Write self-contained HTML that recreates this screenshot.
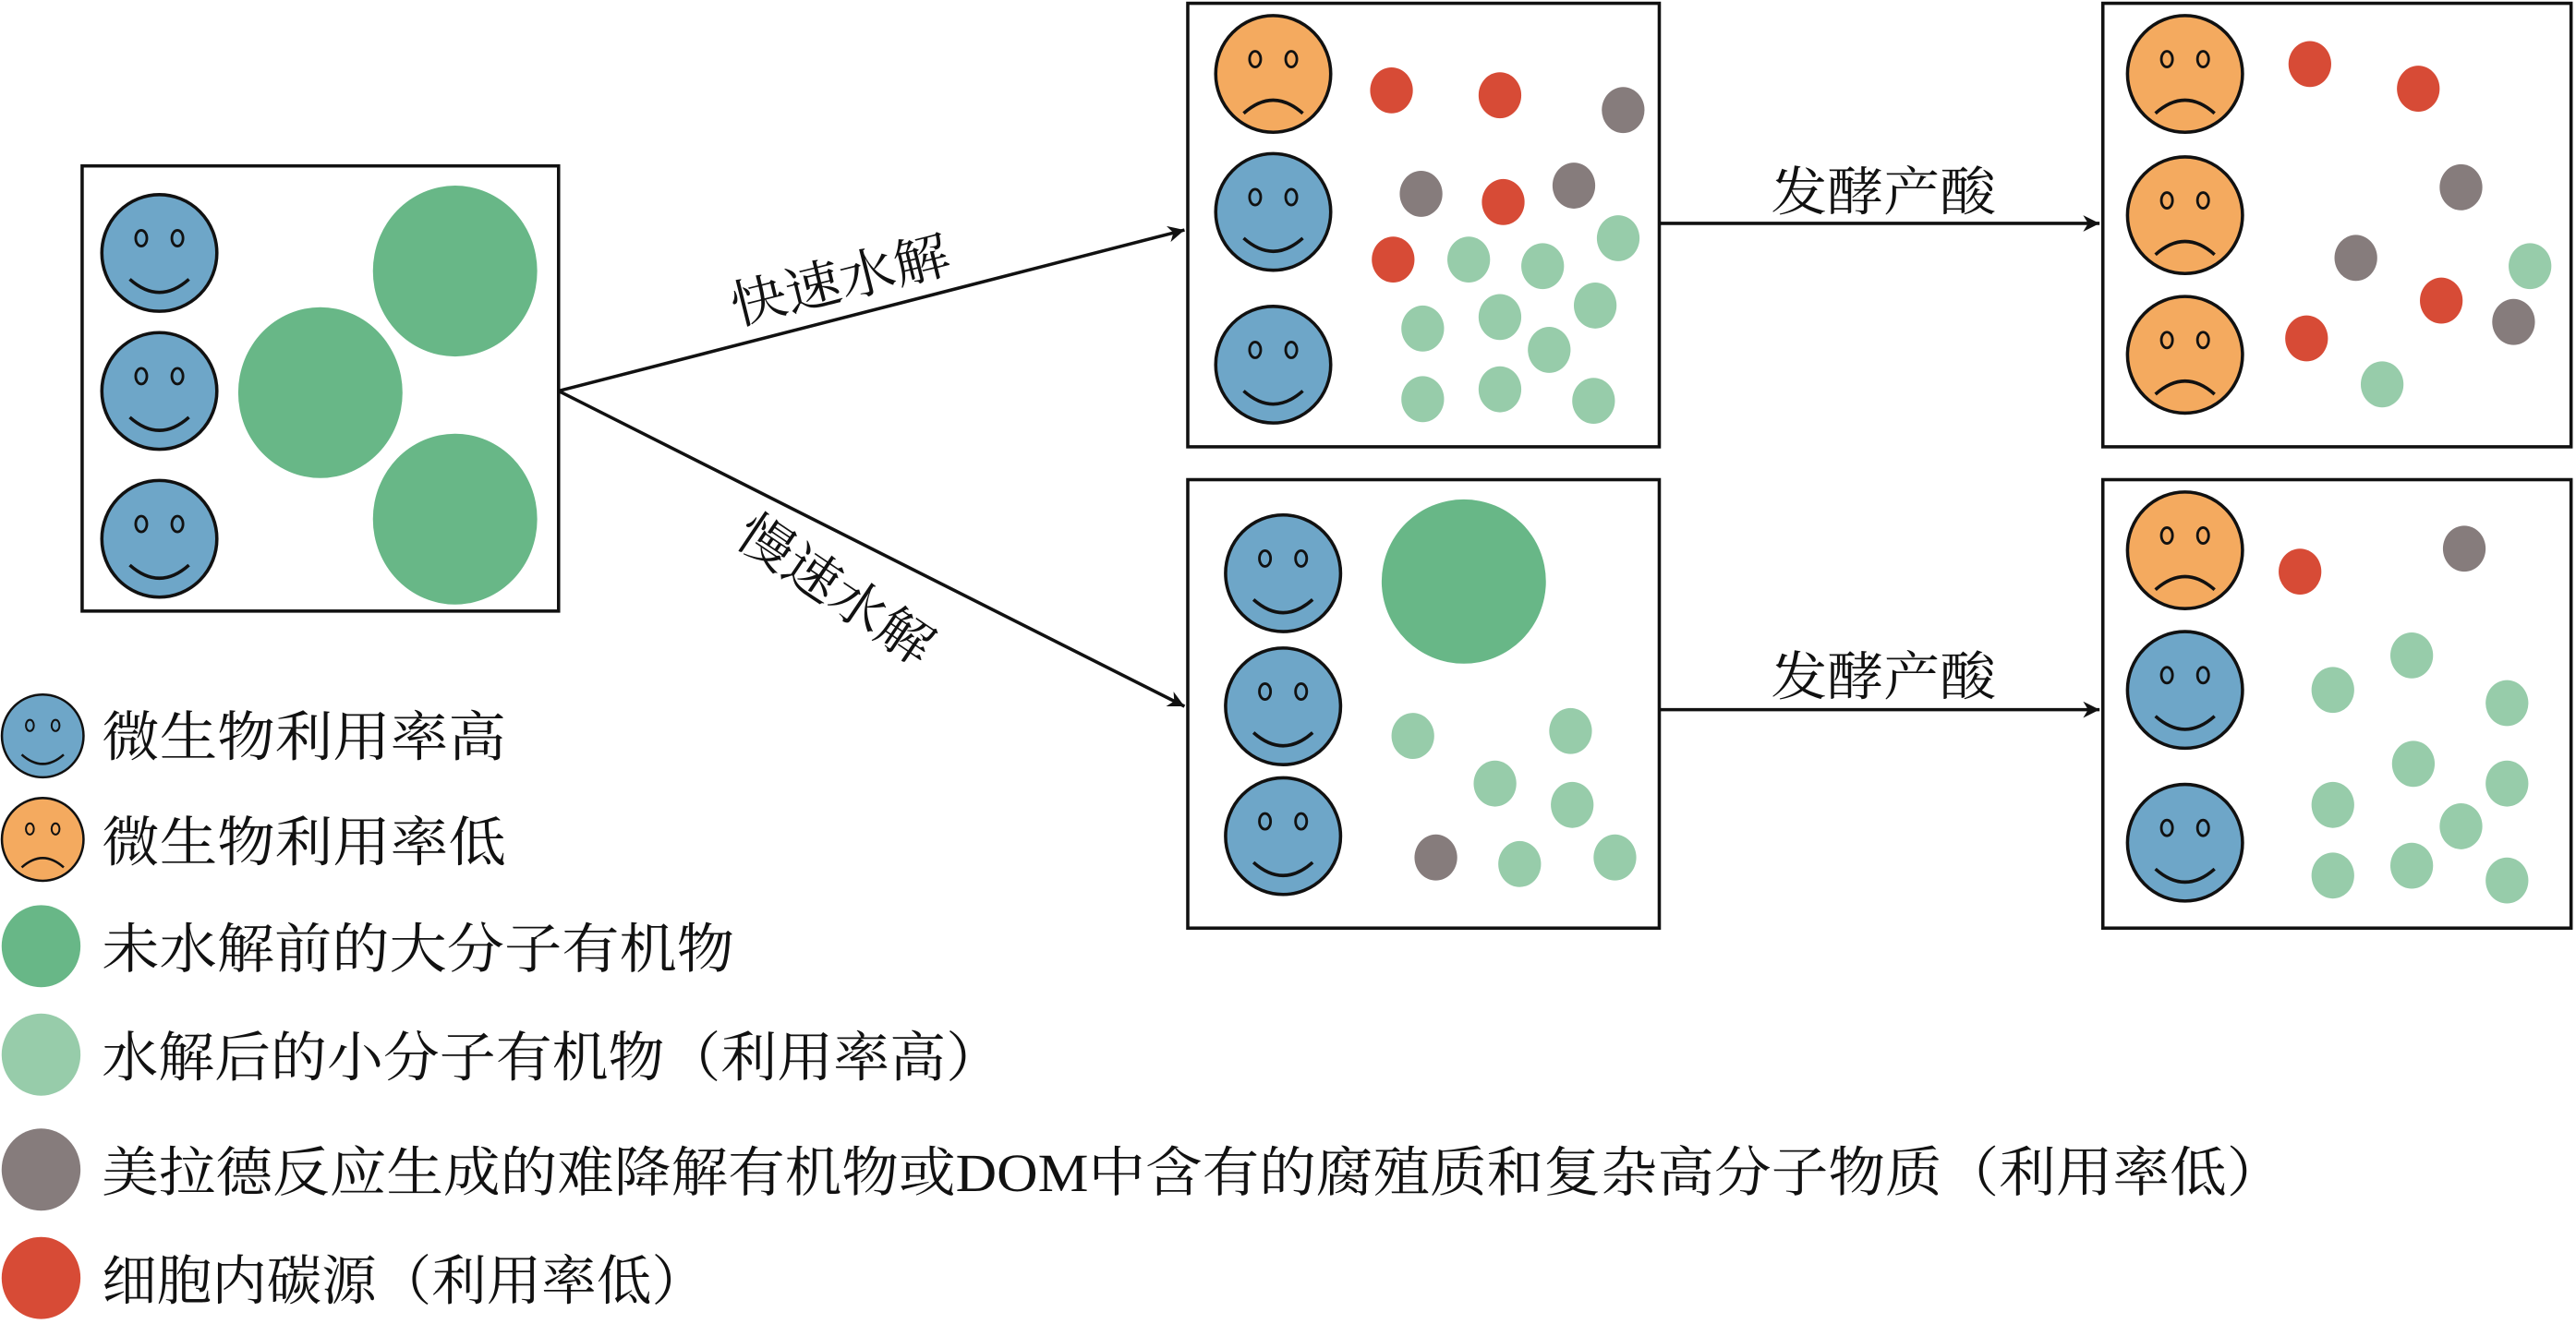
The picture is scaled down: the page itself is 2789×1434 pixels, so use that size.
<!DOCTYPE html>
<html><head><meta charset="utf-8"><style>
html,body{margin:0;padding:0;background:#fff;}
svg{display:block}
text{font-family:"Liberation Serif","Noto Serif CJK SC",serif;fill:#111;}
</style></head><body>
<svg width="2789" height="1434" viewBox="0 0 1568 806" preserveAspectRatio="none" xmlns="http://www.w3.org/2000/svg">
<defs>
<g id="happy">
<ellipse cx="0" cy="0" rx="35" ry="35.5" fill="#6ea6c8" stroke="#111" stroke-width="2"/>
<ellipse cx="-11" cy="-9" rx="3.4" ry="4.8" fill="none" stroke="#111" stroke-width="1.6"/>
<ellipse cx="11" cy="-9" rx="3.4" ry="4.8" fill="none" stroke="#111" stroke-width="1.6"/>
<path d="M-18,16 Q0,32 18,16" fill="none" stroke="#111" stroke-width="2"/>
</g>
<g id="sad">
<ellipse cx="0" cy="0" rx="35" ry="35.5" fill="#f4aa5f" stroke="#111" stroke-width="2"/>
<ellipse cx="-11" cy="-9" rx="3.4" ry="4.8" fill="none" stroke="#111" stroke-width="1.6"/>
<ellipse cx="11" cy="-9" rx="3.4" ry="4.8" fill="none" stroke="#111" stroke-width="1.6"/>
<path d="M-18,24 Q0,8 18,24" fill="none" stroke="#111" stroke-width="2"/>
</g>
<marker id="ah" viewBox="0 0 10 10" refX="10" refY="5" markerWidth="14" markerHeight="10" markerUnits="userSpaceOnUse" orient="auto">
<path d="M0,0 L10,5 L0,10 L3,5 Z" fill="#111"/>
</marker>
</defs>

<g fill="none" stroke="#111" stroke-width="2">
<rect x="50" y="101" width="290" height="271"/>
<rect x="723" y="2" width="287" height="270"/>
<rect x="723" y="292" width="287" height="273"/>
<rect x="1280" y="2" width="285" height="270"/>
<rect x="1280" y="292" width="285" height="273"/>
</g>

<g stroke="#111" stroke-width="2" fill="none">
<line x1="340" y1="238" x2="721" y2="140" marker-end="url(#ah)"/>
<line x1="340" y1="238" x2="721" y2="430" marker-end="url(#ah)"/>
<line x1="1010" y1="136" x2="1278" y2="136" marker-end="url(#ah)"/>
<line x1="1010" y1="432" x2="1278" y2="432" marker-end="url(#ah)"/>
</g>
<text x="0" y="0" font-size="32" transform="translate(448,198) rotate(-14)" textLength="136" lengthAdjust="spacingAndGlyphs">快速水解</text>
<text x="0" y="0" font-size="32" transform="translate(446,330) rotate(34)" textLength="136" lengthAdjust="spacingAndGlyphs">慢速水解</text>
<text x="1078" y="128" font-size="32" textLength="137" lengthAdjust="spacingAndGlyphs">发酵产酸</text>
<text x="1078" y="423" font-size="32" textLength="137" lengthAdjust="spacingAndGlyphs">发酵产酸</text>

<use href="#happy" transform="translate(97,154)"/>
<use href="#happy" transform="translate(97,238)"/>
<use href="#happy" transform="translate(97,328)"/>
<g fill="#68b787">
<ellipse cx="277" cy="165" rx="50" ry="52"/>
<ellipse cx="195" cy="239" rx="50" ry="52"/>
<ellipse cx="277" cy="316" rx="50" ry="52"/>
</g>

<use href="#sad" transform="translate(775,45)"/>
<use href="#happy" transform="translate(775,129)"/>
<use href="#happy" transform="translate(775,222)"/>
<g fill="#d74b36">
<ellipse cx="847" cy="55" rx="13" ry="14"/><ellipse cx="913" cy="58" rx="13" ry="14"/>
<ellipse cx="848" cy="158" rx="13" ry="14"/><ellipse cx="915" cy="123" rx="13" ry="14"/>
</g>
<g fill="#867c7c">
<ellipse cx="988" cy="67" rx="13" ry="14"/><ellipse cx="865" cy="118" rx="13" ry="14"/><ellipse cx="958" cy="113" rx="13" ry="14"/>
</g>
<g fill="#97ccaa">
<ellipse cx="894" cy="158" rx="13" ry="14"/><ellipse cx="939" cy="162" rx="13" ry="14"/><ellipse cx="985" cy="145" rx="13" ry="14"/>
<ellipse cx="866" cy="200" rx="13" ry="14"/><ellipse cx="913" cy="193" rx="13" ry="14"/><ellipse cx="971" cy="186" rx="13" ry="14"/>
<ellipse cx="943" cy="213" rx="13" ry="14"/><ellipse cx="866" cy="243" rx="13" ry="14"/><ellipse cx="913" cy="237" rx="13" ry="14"/>
<ellipse cx="970" cy="244" rx="13" ry="14"/>
</g>

<use href="#happy" transform="translate(781,349)"/>
<use href="#happy" transform="translate(781,430)"/>
<use href="#happy" transform="translate(781,509)"/>
<ellipse cx="891" cy="354" rx="50" ry="50" fill="#68b787"/>
<g fill="#97ccaa">
<ellipse cx="860" cy="448" rx="13" ry="14"/><ellipse cx="956" cy="445" rx="13" ry="14"/><ellipse cx="910" cy="477" rx="13" ry="14"/>
<ellipse cx="957" cy="490" rx="13" ry="14"/><ellipse cx="925" cy="526" rx="13" ry="14"/><ellipse cx="983" cy="522" rx="13" ry="14"/>
</g>
<ellipse cx="874" cy="522" rx="13" ry="14" fill="#867c7c"/>

<use href="#sad" transform="translate(1330,45)"/>
<use href="#sad" transform="translate(1330,131)"/>
<use href="#sad" transform="translate(1330,216)"/>
<g fill="#d74b36">
<ellipse cx="1406" cy="39" rx="13" ry="14"/><ellipse cx="1472" cy="54" rx="13" ry="14"/>
<ellipse cx="1486" cy="183" rx="13" ry="14"/><ellipse cx="1404" cy="206" rx="13" ry="14"/>
</g>
<g fill="#867c7c">
<ellipse cx="1498" cy="114" rx="13" ry="14"/><ellipse cx="1434" cy="157" rx="13" ry="14"/><ellipse cx="1530" cy="196" rx="13" ry="14"/>
</g>
<g fill="#97ccaa">
<ellipse cx="1540" cy="162" rx="13" ry="14"/><ellipse cx="1450" cy="234" rx="13" ry="14"/>
</g>

<use href="#sad" transform="translate(1330,335)"/>
<use href="#happy" transform="translate(1330,420)"/>
<use href="#happy" transform="translate(1330,513)"/>
<ellipse cx="1400" cy="348" rx="13" ry="14" fill="#d74b36"/>
<ellipse cx="1500" cy="334" rx="13" ry="14" fill="#867c7c"/>
<g fill="#97ccaa">
<ellipse cx="1468" cy="399" rx="13" ry="14"/><ellipse cx="1420" cy="420" rx="13" ry="14"/><ellipse cx="1526" cy="428" rx="13" ry="14"/>
<ellipse cx="1469" cy="465" rx="13" ry="14"/><ellipse cx="1526" cy="477" rx="13" ry="14"/><ellipse cx="1420" cy="490" rx="13" ry="14"/>
<ellipse cx="1498" cy="503" rx="13" ry="14"/><ellipse cx="1420" cy="533" rx="13" ry="14"/><ellipse cx="1468" cy="527" rx="13" ry="14"/>
<ellipse cx="1526" cy="536" rx="13" ry="14"/>
</g>

<use href="#happy" transform="translate(26,448) scale(0.71)"/>
<use href="#sad" transform="translate(26,511) scale(0.71)"/>
<ellipse cx="25" cy="576" rx="24" ry="25" fill="#68b787"/>
<ellipse cx="25" cy="642" rx="24" ry="25" fill="#97ccaa"/>
<ellipse cx="25" cy="712" rx="24" ry="25" fill="#867c7c"/>
<ellipse cx="25" cy="778" rx="24" ry="25" fill="#d74b36"/>
<g font-size="33">
<text x="62" y="460" textLength="246" lengthAdjust="spacingAndGlyphs">微生物利用率高</text>
<text x="62" y="524" textLength="246" lengthAdjust="spacingAndGlyphs">微生物利用率低</text>
<text x="62" y="589" textLength="385" lengthAdjust="spacingAndGlyphs">未水解前的大分子有机物</text>
<text x="62" y="655" textLength="548" lengthAdjust="spacingAndGlyphs">水解后的小分子有机物（利用率高）</text>
<text x="62" y="725" textLength="1328" lengthAdjust="spacingAndGlyphs">美拉德反应生成的难降解有机物或DOM中含有的腐殖质和复杂高分子物质（利用率低）</text>
<text x="62" y="791" textLength="368" lengthAdjust="spacingAndGlyphs">细胞内碳源（利用率低）</text>
</g>
</svg>
</body></html>
